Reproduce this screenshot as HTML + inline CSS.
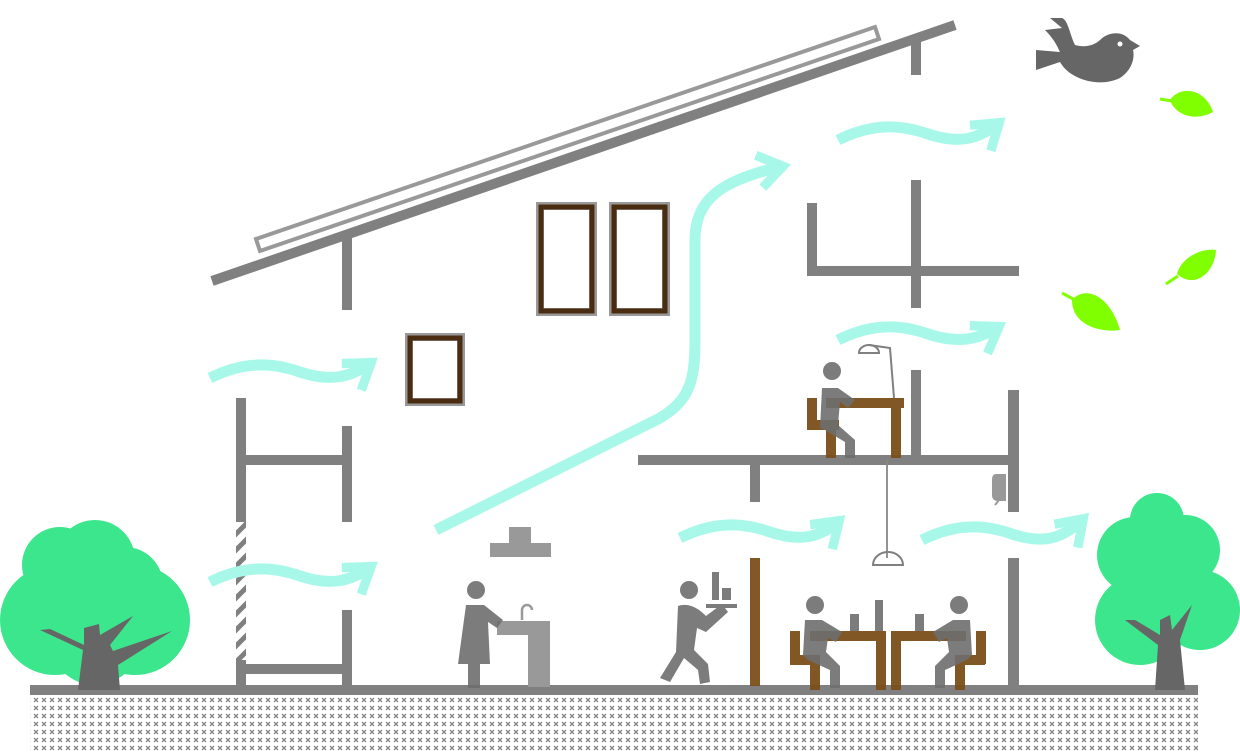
<!DOCTYPE html>
<html><head><style>html,body{margin:0;padding:0;background:#fff}svg{display:block}</style></head>
<body>
<svg width="1240" height="752" viewBox="0 0 1240 752" xmlns="http://www.w3.org/2000/svg">
<defs>
<pattern id="xp" width="8" height="8" patternUnits="userSpaceOnUse">
<path d="M2 2L6 6M6 2L2 6" stroke="#888" stroke-width="1.3"/>
</pattern>
<pattern id="hatch" x="236" y="522" width="10" height="16" patternUnits="userSpaceOnUse">
<path d="M-2 14L12 0 M-2 30L12 16" stroke="#808080" stroke-width="5"/>
</pattern>
<marker id="ah" markerWidth="4" markerHeight="4" refX="2.6" refY="2" orient="auto" markerUnits="strokeWidth">
<path d="M0.3 0.5L2.5 2L0.3 3.5" fill="none" stroke="#a8f8ea" stroke-width="0.85" stroke-linejoin="miter"/>
</marker>
</defs>
<!-- ground -->
<rect x="30" y="697" width="1168" height="55" fill="url(#xp)"/>
<rect x="30" y="685" width="1168" height="10" fill="#808080"/>
<!-- roof -->
<line x1="212" y1="281" x2="955" y2="25" stroke="#808080" stroke-width="10"/>
<polygon points="256,239 875,27 879,39 260,251" fill="#fff" stroke="#999" stroke-width="4"/>
<g fill="#808080">
<rect x="236" y="398" width="10" height="124"/>
<rect x="236" y="660" width="10" height="30"/>
<rect x="236" y="455" width="116" height="10"/>
<rect x="236" y="664" width="114" height="10"/>
<rect x="342" y="237" width="10" height="73"/>
<rect x="342" y="426" width="10" height="96"/>
<rect x="342" y="610" width="10" height="80"/>
<rect x="638" y="455" width="380" height="10"/>
<rect x="750" y="460" width="10" height="42"/>
<rect x="911" y="370" width="10" height="90"/>
<rect x="1008" y="390" width="11" height="122"/>
<rect x="1008" y="558" width="11" height="132"/>
<rect x="911" y="35" width="10" height="40"/>
<rect x="911" y="180" width="10" height="128"/>
<rect x="807" y="266" width="212" height="10"/>
<rect x="807" y="203" width="10" height="70"/>
</g>
<rect x="236" y="522" width="10" height="138" fill="url(#hatch)"/>
<!-- windows -->
<g fill="none">
<rect x="540" y="206" width="53" height="106" stroke="#999" stroke-width="8"/>
<rect x="613" y="206" width="53" height="106" stroke="#999" stroke-width="8"/>
<rect x="409" y="337" width="52" height="65" stroke="#999" stroke-width="8"/>
<g stroke="#4a2c10" stroke-width="5">
<rect x="541" y="207" width="51" height="104"/>
<rect x="614" y="207" width="51" height="104"/>
<rect x="410" y="338" width="50" height="63"/>
</g>
</g>
<!-- wind arrows -->
<g fill="none" stroke="#a8f8ea" stroke-width="11" marker-end="url(#ah)">
<path d="M210 378 C250 358,280 365,300 372 C330 382,350 378,372 362"/>
<path d="M210 582 C250 562,280 569,300 576 C330 586,350 582,372 566"/>
<path d="M838 140 C878 120,908 127,928 134 C958 144,978 140,1000 122"/>
<path d="M838 340 C878 320,908 327,928 334 C958 344,978 340,1000 326"/>
<path d="M680 538 C720 518,750 525,770 532 C800 542,820 538,840 520"/>
<path d="M922 540 C962 520,992 527,1012 534 C1042 544,1062 540,1084 518"/>
<path d="M436 530 L660 418 C690 400,695 380,695 340 L695 240 C695 200,720 180,784 166"/>
</g>
<!-- range hood, sink -->
<g fill="#999">
<rect x="509" y="527" width="22" height="20"/>
<rect x="490" y="543" width="61" height="14"/>
<rect x="497" y="621" width="53" height="14"/>
<rect x="528" y="621" width="22" height="66"/>
<path d="M522 620 v-10 a5 5 0 0 1 10 0" fill="none" stroke="#999" stroke-width="2.5"/>
</g>
<!-- furniture brown -->
<g fill="#7a4f1a" opacity="0.95">
<rect x="750" y="558" width="10" height="128"/>
<rect x="807" y="398" width="10" height="32"/>
<rect x="807" y="420" width="32" height="10"/>
<rect x="826" y="420" width="10" height="38"/>
<rect x="826" y="398" width="78" height="10"/>
<rect x="891" y="398" width="10" height="60"/>
<rect x="790" y="631" width="10" height="33"/>
<rect x="790" y="655" width="30" height="10"/>
<rect x="810" y="655" width="10" height="35"/>
<rect x="810" y="631" width="75" height="10"/>
<rect x="876" y="631" width="10" height="59"/>
<rect x="891" y="631" width="75" height="10"/>
<rect x="891" y="631" width="10" height="59"/>
<rect x="976" y="631" width="10" height="33"/>
<rect x="955" y="655" width="30" height="10"/>
<rect x="955" y="655" width="10" height="35"/>
</g>
<!-- people -->
<g fill="#6e6e6e" opacity="0.9">
<circle cx="476" cy="590" r="9"/>
<path d="M466 605 L484 605 L503 620 L497 628 L488 622 L490 664 L458 664 Z"/>
<rect x="468" y="660" width="12" height="28"/>
<circle cx="689" cy="590" r="9"/>
<path d="M678 606 C690 602,700 610,706 616 L722 604 L728 612 L706 632 L697 628 L694 650 L708 664 L710 682 L700 684 L698 670 L684 658 L670 682 L660 678 L676 652 Z"/>
<rect x="712" y="572" width="7" height="28"/><rect x="722" y="588" width="9" height="12"/><rect x="706" y="604" width="31" height="4"/>
<circle cx="832" cy="371" r="9"/>
<path d="M822 388 L838 388 L855 400 L848 408 L840 402 L838 425 L855 440 L855 458 L845 458 L845 442 L825 430 L820 428 Z"/>
<line x1="887" y1="460" x2="887" y2="558" stroke="#888" stroke-width="2"/>
<circle cx="815" cy="605" r="9"/>
<path d="M805 620 L822 620 L842 632 L836 642 L828 638 L826 652 L840 666 L840 688 L830 688 L830 670 L808 660 L803 655 Z"/>
<circle cx="959" cy="605" r="9"/>
<path d="M970 620 L953 620 L933 632 L939 642 L947 638 L949 652 L935 666 L935 688 L945 688 L945 670 L967 660 L972 655 Z"/>
<rect x="850" y="614" width="9" height="17"/><rect x="875" y="600" width="8" height="31"/><rect x="915" y="614" width="9" height="17"/>
</g>
<!-- lamps -->
<g fill="none" stroke="#808080" stroke-width="2">
<path d="M859 353 a10 8 0 0 1 20 0 z"/>
<path d="M869 345 L890 348 L894 398"/>
<path d="M873 565 a15 13 0 0 1 30 0 z"/>
</g>
<path d="M1005 475 L996 475 Q993 475,993 480 L993 495 Q993 500,998 500 L1005 500 Z M999 500 L995 505" fill="#999" stroke="#999" stroke-width="2"/>
<!-- trees -->
<g fill="#3be68c">
<circle cx="60" cy="565" r="38"/><circle cx="95" cy="560" r="40"/><circle cx="125" cy="585" r="38"/>
<circle cx="55" cy="620" r="55"/><circle cx="135" cy="620" r="55"/><circle cx="95" cy="640" r="45"/>
<circle cx="1157" cy="520" r="27"/><circle cx="1135" cy="555" r="38"/><circle cx="1185" cy="550" r="35"/>
<circle cx="1140" cy="620" r="45"/><circle cx="1200" cy="610" r="40"/><circle cx="1165" cy="600" r="40"/>
</g>
<g fill="#666">
<path d="M78 690 L83 650 L40 630 L50 629 L84 645 L84 628 L99 624 L100 635 L133 616 L110 645 L113 651 L172 631 L118 665 L120 690 Z"/>
<path d="M1155 690 L1158 645 L1125 620 L1135 620 L1160 635 L1160 620 L1170 615 L1172 630 L1192 605 L1180 640 L1185 690 Z"/>
</g>
<!-- bird -->
<path d="M1036 50 L1036 70 L1060 62 C1070 80,1100 88,1120 78 C1132 70,1135 58,1133 50 L1140 46 L1130 40 C1122 30,1108 32,1100 40 C1095 45,1085 48,1075 45 C1070 35,1068 20,1062 18 L1050 18 L1062 28 L1045 30 C1055 40,1058 48,1060 52 Z" fill="#666"/>
<circle cx="1120" cy="44" r="2.5" fill="#fff"/>
<!-- leaves -->
<g fill="#7fff00">
<path d="M1170 100 C1180 85,1205 88,1213 112 C1195 122,1175 115,1170 100 Z"/>
<path d="M1160 99 L1172 101" stroke="#7fff00" stroke-width="3"/>
<path d="M1177 274 C1182 255,1205 248,1216 250 C1215 272,1195 290,1177 274 Z"/>
<path d="M1166 284 L1178 276" stroke="#7fff00" stroke-width="3"/>
<path d="M1072 300 C1085 285,1110 295,1120 330 C1100 333,1072 325,1072 300 Z"/>
<path d="M1062 293 L1075 300" stroke="#7fff00" stroke-width="3"/>
</g>
</svg>
</body></html>
